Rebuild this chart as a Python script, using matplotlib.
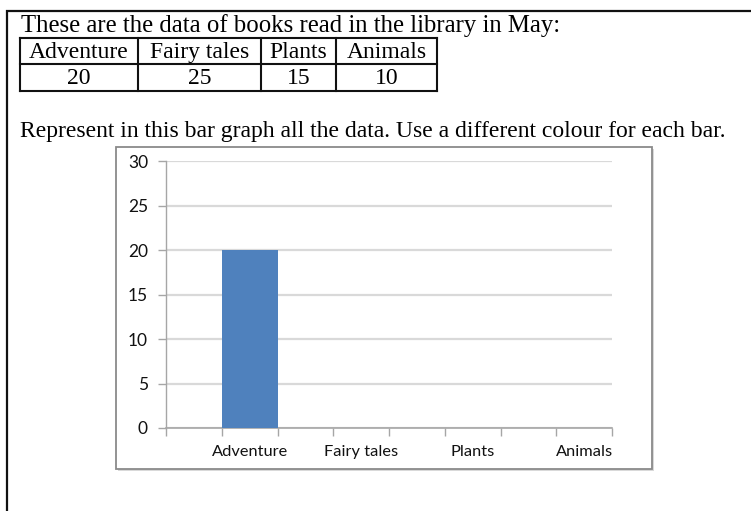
import matplotlib
matplotlib.use("Agg")
import matplotlib.pyplot as plt
from matplotlib.patches import Rectangle
from matplotlib.lines import Line2D

# Library data for May
categories = ["Adventure", "Fairy tales", "Plants", "Animals"]
books_read = [20, 25, 15, 10]
# Bars filled in on the graph so far (the rest are left for the pupil)
graph_values = [20, None, None, None]
y_ticks = [0, 5, 10, 15, 20, 25, 30]

intro_text = "These are the data of books read in the library in May:"
task_text = "Represent in this bar graph all the data. Use a different colour for each bar."

W, H = 751, 511
fig = plt.figure(figsize=(W / 100, H / 100), dpi=100)
fig.patch.set_facecolor("white")

# Page overlay in pixel coordinates (y grows downward)
page = fig.add_axes([0, 0, 1, 1])
page.set_xlim(0, W)
page.set_ylim(H, 0)
page.axis("off")

serif = "Liberation Serif"

# Worksheet frame (left and top edges)
page.add_line(Line2D([6.5, 6.5, W + 5], [H + 5, 11, 11], color="#111111", lw=1.6,
                     solid_joinstyle="miter"))

page.text(21, 32, intro_text, family=serif, fontsize=17.8, va="baseline", ha="left")

# Data table
col_edges = [20, 138, 261, 336, 437]
row_edges = [38, 64.5, 91]
for x in col_edges:
    page.add_line(Line2D([x, x], [row_edges[0], row_edges[-1]], color="#111111", lw=1.5))
for y in row_edges:
    page.add_line(Line2D([col_edges[0], col_edges[-1]], [y, y], color="#111111", lw=1.5))
for i, (name, val) in enumerate(zip(categories, books_read)):
    cx = (col_edges[i] + col_edges[i + 1]) / 2
    page.text(cx, (row_edges[0] + row_edges[1]) / 2 + 1, name, family=serif,
              fontsize=17.0, ha="center", va="center")
    page.text(cx, (row_edges[1] + row_edges[2]) / 2 + 1, str(val), family=serif,
              fontsize=17.0, ha="center", va="center")

page.text(20, 137, task_text, family=serif, fontsize=17.0, va="baseline", ha="left")

# Chart area frame with a soft shadow
page.add_patch(Rectangle((118, 149), 536, 322, facecolor="#d9d9d9", edgecolor="none", zorder=1))
page.add_patch(Rectangle((116, 147), 536, 322, facecolor="white", edgecolor="#8a8a8a",
                         lw=1.3, zorder=2))

# Bar chart axes
left, right, top, bottom = 166, 612, 161, 428
ax = fig.add_axes([left / W, 1 - bottom / H, (right - left) / W, (bottom - top) / H])
ax.set_zorder(3)
ax.patch.set_alpha(0)

n_slots = 2 * len(categories)
centers = [2 * i + 1.5 for i in range(len(categories))]
for c, v in zip(centers, graph_values):
    if v is not None:
        ax.bar(c, v, width=1.0, color="#4F81BD", zorder=3)

ax.set_xlim(0, n_slots)
ax.set_ylim(y_ticks[0], y_ticks[-1])
ax.set_yticks(y_ticks)
ax.set_yticklabels([str(t) for t in y_ticks])
ax.set_xticks(range(n_slots + 1))
ax.set_xticklabels([])
ax.set_xticks(centers, minor=True)
ax.set_xticklabels(categories, minor=True)
ax.tick_params(axis="x", which="minor", length=0, pad=12)
ax.tick_params(axis="x", which="major", length=6, color="#a6a6a6", width=1)
ax.tick_params(axis="y", length=6, color="#a6a6a6", width=1, pad=7)

sans = "Lato"
for lbl in ax.get_yticklabels():
    lbl.set_fontfamily(sans)
    lbl.set_fontsize(12.5)
    lbl.set_color("#111111")
for lbl in ax.get_xticklabels(minor=True):
    lbl.set_fontfamily(sans)
    lbl.set_fontsize(11.8)
    lbl.set_color("#111111")

ax.yaxis.grid(True, color="#d9d9d9", lw=1.6)
ax.set_axisbelow(True)
for side in ("top", "right"):
    ax.spines[side].set_visible(False)
ax.spines["left"].set_color("#a6a6a6")
ax.spines["bottom"].set_color("#a6a6a6")
ax.spines["left"].set_linewidth(1)
ax.spines["bottom"].set_linewidth(1.2)

fig.savefig("out.png", dpi=100)
